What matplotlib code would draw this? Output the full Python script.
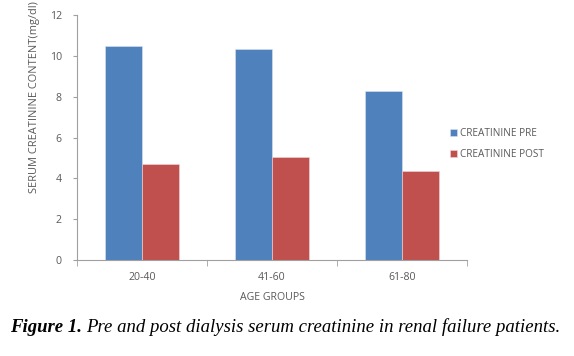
import matplotlib
matplotlib.use("Agg")
import matplotlib.pyplot as plt
import numpy as np

categories = ["20-40", "41-60", "61-80"]
pre_values = [10.5, 10.35, 8.28]
post_values = [4.7, 5.04, 4.35]
series_names = ["CREATININE PRE", "CREATININE POST"]
y_ticks = [0, 2, 4, 6, 8, 10, 12]

fig = plt.figure(figsize=(5.74, 3.56), dpi=100)
ax = fig.add_axes([77/574, 1-260/356, (467-77)/574, (260-15)/356])

x = np.arange(len(categories))
w = 0.285
grey = "#595959"
font = "Open Sans"
fs = 7.6
ax.bar(x - w/2, pre_values, w, color="#4F81BD", edgecolor="#d9e3f0", linewidth=0.4, label=series_names[0])
ax.bar(x + w/2, post_values, w, color="#C0504D", edgecolor="#f0d9d8", linewidth=0.4, label=series_names[1])

ax.set_xlim(-0.5, 2.5)
ax.set_ylim(0, 12)
ax.set_yticks(y_ticks)
ax.set_yticklabels([str(v) for v in y_ticks], fontsize=fs, color=grey, fontfamily=font)
ax.set_xticks(x)
ax.set_xticklabels(categories, fontsize=fs, color=grey, fontfamily=font)
ax.tick_params(axis="x", length=0, pad=9)
ax.tick_params(axis="y", length=3, color="#a0a0a0", pad=8)
ax.set_xticks([-0.5, 0.5, 1.5, 2.5], minor=True)
ax.tick_params(axis="x", which="minor", length=4, color="#a0a0a0", direction="out")
for s in ["top", "right"]:
    ax.spines[s].set_visible(False)
for s in ["left", "bottom"]:
    ax.spines[s].set_color("#a0a0a0")
    ax.spines[s].set_linewidth(0.8)

fig.text(35/574, 1-97/356, "SERUM CREATININE CONTENT(mg/dl)", rotation=90, ha="center", va="center",
         fontsize=7.9, color=grey, fontfamily=font)
fig.text(272/574, 1-298/356, "AGE GROUPS", ha="center", va="center", fontsize=fs, color=grey, fontfamily=font)

leg = ax.legend(loc="center left", bbox_to_anchor=(441/574, 1-144/356), bbox_transform=fig.transFigure,
                frameon=False, handlelength=0.65, handleheight=0.65, handletextpad=0.4, labelspacing=0.95,
                prop={"family": font, "size": 7.2})
for t in leg.get_texts():
    t.set_color(grey)

cap_fs = 13.5
t1 = fig.text(10/574, 1-327/356, "Figure 1.", fontsize=cap_fs, fontfamily="Liberation Serif", style="italic",
              weight="bold", ha="left", va="center")
fig.canvas.draw()
bb = t1.get_window_extent(renderer=fig.canvas.get_renderer())
fig.text((bb.x1 + 4)/574, 1-327/356, "Pre and post dialysis serum creatinine in renal failure patients.",
         fontsize=cap_fs, fontfamily="Liberation Serif", style="italic", ha="left", va="center")

fig.savefig("out.png", dpi=100)
